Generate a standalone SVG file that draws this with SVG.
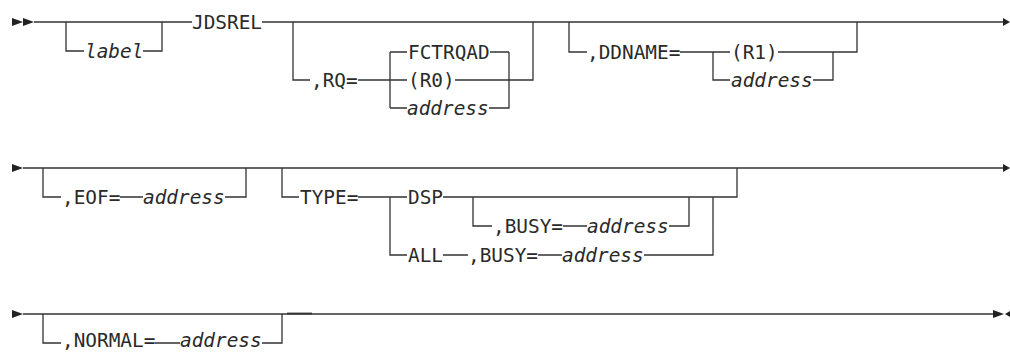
<svg xmlns="http://www.w3.org/2000/svg" width="1010" height="352" viewBox="0 0 1010 352">
<style>
.l{fill:none;stroke:#333;stroke-width:1.3}
.a{fill:#222}
text{font-family:"DejaVu Sans Mono","Liberation Mono",monospace;font-size:19.4px;fill:#2a2a2a}
.i{font-style:italic}
</style>
<rect width="1010" height="352" fill="#fff"/>
<g id="connectors">
<path class="l" d="M34 22H192M262 22H1004"/>
<path class="l" d="M66 22V51H84M143 51H162V22"/>
<path class="l" d="M293 22V80H310M358 80H407M390 52V108M390 52H407M490 52H509M455 80H533V22M390 108H407M489 108H509V52"/>
<path class="l" d="M569 22V52H587M680 52H730M713 52V80H730M778 52H857V22M813 80H833V52"/>
<path class="l" d="M23 168H1004"/>
<path class="l" d="M43 168V197H61M120 197H143M225 197H246V168"/>
<path class="l" d="M282 168V197H299M358 197H407M390 197V255H407M443 197H737V168M473 197V226H492M563 226H587M669 226H689V197M443 255H468M538 255H562M644 255H713V197"/>
<path class="l" d="M23 314H993"/>
<path class="l" d="M43 314V343H61M155 343H180M262 343H282V314"/>
<path class="l" d="M287 313.5H312" style="stroke-width:1.8"/>
<polygon class="a" points="12,18 23,22 12,26"/>
<polygon class="a" points="23,18 34,22 23,26"/>
<polygon class="a" points="1003,18 1010,22 1003,26"/>
<polygon class="a" points="12,164 23,168 12,172"/>
<polygon class="a" points="1003,164 1010,168 1003,172"/>
<polygon class="a" points="12,310 23,314 12,318"/>
<polygon class="a" points="993,310 1004,314 993,318"/>
<polygon class="a" points="1010,311 1005,314 1010,317"/>
</g>
<g id="n-label"><text class="i" x="85" y="58">label</text></g>
<g id="n-jdsrel"><text x="192" y="29">JDSREL</text></g>
<g id="n-rq"><text x="311" y="87">,RQ=</text></g>
<g id="n-fctrqad"><text x="408" y="59">FCTRQAD</text></g>
<g id="n-r0"><text x="408" y="87">(R0)</text></g>
<g id="n-rq-address"><text class="i" x="407" y="115">address</text></g>
<g id="n-ddname"><text x="587" y="59">,DDNAME=</text></g>
<g id="n-r1"><text x="731" y="59">(R1)</text></g>
<g id="n-dd-address"><text class="i" x="731" y="87">address</text></g>
<g id="n-eof"><text x="62" y="204">,EOF=</text></g>
<g id="n-eof-address"><text class="i" x="143" y="204">address</text></g>
<g id="n-type"><text x="300" y="204">TYPE=</text></g>
<g id="n-dsp"><text x="408" y="204">DSP</text></g>
<g id="n-busy1"><text x="493" y="233">,BUSY=</text></g>
<g id="n-busy1-address"><text class="i" x="587" y="233">address</text></g>
<g id="n-all"><text x="408" y="262">ALL</text></g>
<g id="n-busy2"><text x="468" y="262">,BUSY=</text></g>
<g id="n-busy2-address"><text class="i" x="562" y="262">address</text></g>
<g id="n-normal"><text x="62" y="347">,NORMAL=</text></g>
<g id="n-normal-address"><text class="i" x="180" y="347">address</text></g>
</svg>
